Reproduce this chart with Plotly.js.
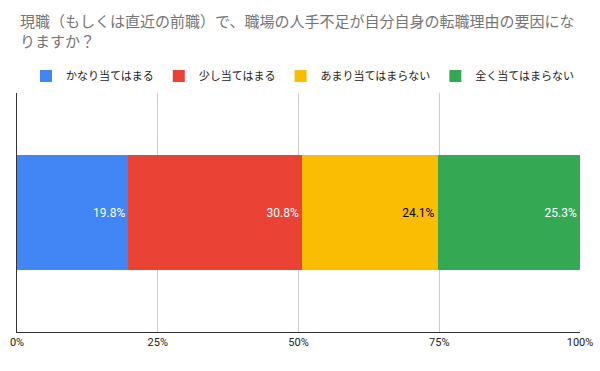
<!DOCTYPE html>
<html>
<head>
<meta charset="utf-8">
<script src="https://cdn.plot.ly/plotly-3.0.1.min.js"></script>
<style>html,body{margin:0;padding:0;background:#fff;}#chart{width:600px;height:371px;}</style>
</head>
<body>
<div id="chart"></div>
<script>
const category = ["回答"];
const seriesNames = ["かなり当てはまる", "少し当てはまる", "あまり当てはまらない", "全く当てはまらない"];
const seriesValues = [19.8, 30.8, 24.1, 25.3];
const seriesColors = ["#4285F4", "#EA4335", "#FBBC04", "#34A853"];
const labelColors = ["#ffffff", "#ffffff", "#000000", "#ffffff"];
const tickVals = [0, 25, 50, 75, 100];
const tickText = ["0%", "25%", "50%", "75%", "100%"];

const traces = seriesNames.map((name, i) => ({
  type: "bar",
  orientation: "h",
  name: name,
  y: category,
  x: [seriesValues[i]],
  marker: {color: seriesColors[i]},
  text: [seriesValues[i].toFixed(1) + "%"],
  textposition: "inside",
  insidetextanchor: "end",
  textangle: 0,
  insidetextfont: {color: labelColors[i], size: 12, family: "Roboto, Arial, sans-serif"},
  hoverinfo: "none"
}));

const layout = {
  width: 600, height: 371,
  margin: {l: 17, r: 20, t: 93, b: 39},
  paper_bgcolor: "#fff", plot_bgcolor: "#fff",
  barmode: "stack",
  bargap: 0.52,
  font: {family: "'Noto Sans CJK JP', sans-serif", color: "#222"},
  title: {
    text: "現職（もしくは直近の前職）で、職場の人手不足が自分自身の転職理由の要因にな<br>りますか？",
    x: 20/600, xref: "container", xanchor: "left",
    y: 1 - 27/371, yref: "container", yanchor: "top",
    font: {size: 15, color: "#757575", family: "'Noto Sans CJK JP', sans-serif"}
  },
  legend: {
    orientation: "h",
    x: 0.505, xanchor: "center", xref: "container",
    y: 1 - 76/371, yanchor: "middle", yref: "container",
    font: {size: 11, color: "#222"},
    traceorder: "normal",
    itemwidth: 30,
    itemclick: false
  },
  xaxis: {
    range: [0, 100],
    tickvals: tickVals, ticktext: tickText,
    showgrid: true, gridcolor: "#cccccc",
    showline: true, linecolor: "#333", linewidth: 1,
    zeroline: false,
    tickfont: {size: 11, color: "#222", family: "Roboto, Arial, sans-serif"},
    ticks: "", fixedrange: true
  },
  yaxis: {
    showticklabels: false, showgrid: false,
    showline: true, linecolor: "#333", linewidth: 1,
    zeroline: false, fixedrange: true
  },
  showlegend: true
};

Plotly.newPlot("chart", traces, layout, {displayModeBar: false, staticPlot: true});
</script>
</body>
</html>
